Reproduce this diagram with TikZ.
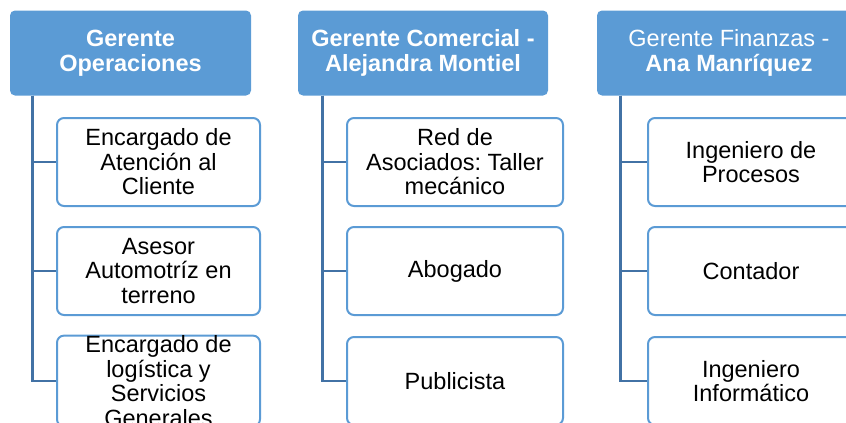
\documentclass[tikz,border=0pt]{standalone}
\usepackage{fontspec}
\setmainfont{Liberation Sans}
\frenchspacing
\definecolor{azul}{RGB}{91,155,213}
\definecolor{azuloscuro}{RGB}{66,114,165}

\begin{document}
\begin{tikzpicture}[x=1pt,y=-1pt,
    gerente/.style={fill=azul,rounded corners=5pt,text=white,align=center,minimum height=85pt,inner sep=0pt,font=\fontsize{23.5}{25}\selectfont},
    cargo/.style={draw=azul,line width=2pt,fill=white,rounded corners=7pt,align=center,minimum height=88pt,inner sep=0pt,font=\fontsize{23.5}{24.5}\selectfont},
    linea/.style={draw=azuloscuro,line width=2.7pt}]
    \useasboundingbox (0,0) rectangle (846,423);
    \clip (0,0) rectangle (846,423);

    %operaciones
    \node[gerente,minimum width=241pt] (g1) at (130.5,53) {\bfseries Gerente\\\bfseries Operaciones};
    \node[cargo,minimum width=203pt] (c11) at (158.5,162) {Encargado de\\Atención al\\Cliente};
    \node[cargo,minimum width=203pt] (c12) at (158.5,271) {Asesor\\Automotríz en\\terreno};
    \node[cargo,minimum width=203pt] (c13) at (158.5,381) {Encargado de\\logística y\\Servicios\\Generales};
    \draw[linea] ([xshift=23pt]g1.south west) |- (c11.west);
    \draw[linea] ([xshift=23pt]g1.south west) |- (c12.west);
    \draw[linea] ([xshift=23pt]g1.south west) |- (c13.west);

    %comercial
    \node[gerente,minimum width=250pt] (g2) at (423,53) {\bfseries Gerente Comercial -\\\bfseries Alejandra Montiel};
    \node[cargo,minimum width=216pt] (c21) at (455,162) {Red de\\Asociados: Taller\\mecánico};
    \node[cargo,minimum width=216pt] (c22) at (455,271) {Abogado};
    \node[cargo,minimum width=216pt] (c23) at (455,381) {Publicista};
    \draw[linea] ([xshift=24.5pt]g2.south west) |- (c21.west);
    \draw[linea] ([xshift=24.5pt]g2.south west) |- (c22.west);
    \draw[linea] ([xshift=24.5pt]g2.south west) |- (c23.west);

    %finanzas
    \node[gerente,minimum width=264pt] (g3) at (729,53) {Gerente Finanzas -\\\bfseries Ana Manríquez};
    \node[cargo,minimum width=206pt] (c31) at (751,162) {Ingeniero de\\Procesos};
    \node[cargo,minimum width=206pt] (c32) at (751,271) {Contador};
    \node[cargo,minimum width=206pt] (c33) at (751,381) {Ingeniero\\Informático};
    \draw[linea] ([xshift=24pt]g3.south west) |- (c31.west);
    \draw[linea] ([xshift=24pt]g3.south west) |- (c32.west);
    \draw[linea] ([xshift=24pt]g3.south west) |- (c33.west);
\end{tikzpicture}
\end{document}
